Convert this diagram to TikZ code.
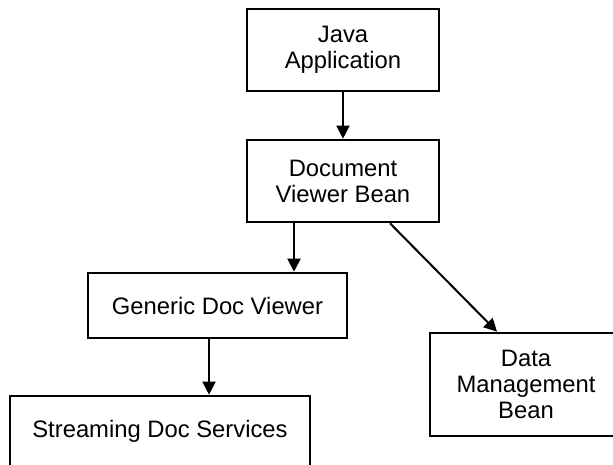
\documentclass[tikz,border=0pt]{standalone}
\usepackage{fontspec}
\setmainfont{Liberation Sans}
\usepackage{tikz}
\usetikzlibrary{arrows.meta,positioning}

\begin{document}
\begin{tikzpicture}
[x=1pt,y=-1pt,
box/.style={rectangle,draw=black,line width=2.6pt,align=center,inner sep=0pt,font=\fontsize{23.8}{26}\selectfont},
arr/.style={line width=2pt,-{Triangle[length=13pt,width=13pt]}}]
\useasboundingbox (0,0) rectangle (613,464);

\node[box,minimum width=192pt,minimum height=82pt] (java) at (343,50) {Java\\Application};
\node[box,minimum width=192pt,minimum height=82pt] (viewer) at (343,181) {Document\\Viewer Bean};
\node[box,minimum width=259pt,minimum height=65pt] (generic) at (217.5,305.5) {Generic Doc Viewer};
\node[box,minimum width=300pt,minimum height=70pt] (stream) at (160,431) {Streaming Doc Services};
\node[box,minimum width=192pt,minimum height=103pt] (data) at (526,384.5) {Data\\Management\\Bean};

\draw [arr] (java) -- (viewer);
\draw [arr] ([xshift=-49pt]viewer.south) -- ([xshift=76.5pt]generic.north);
\draw [arr] ([xshift=47pt]viewer.south) -- ([xshift=-29pt]data.north);
\draw [arr] ([xshift=-8.5pt]generic.south) -- ([xshift=49pt]stream.north);
\end{tikzpicture}
\end{document}
